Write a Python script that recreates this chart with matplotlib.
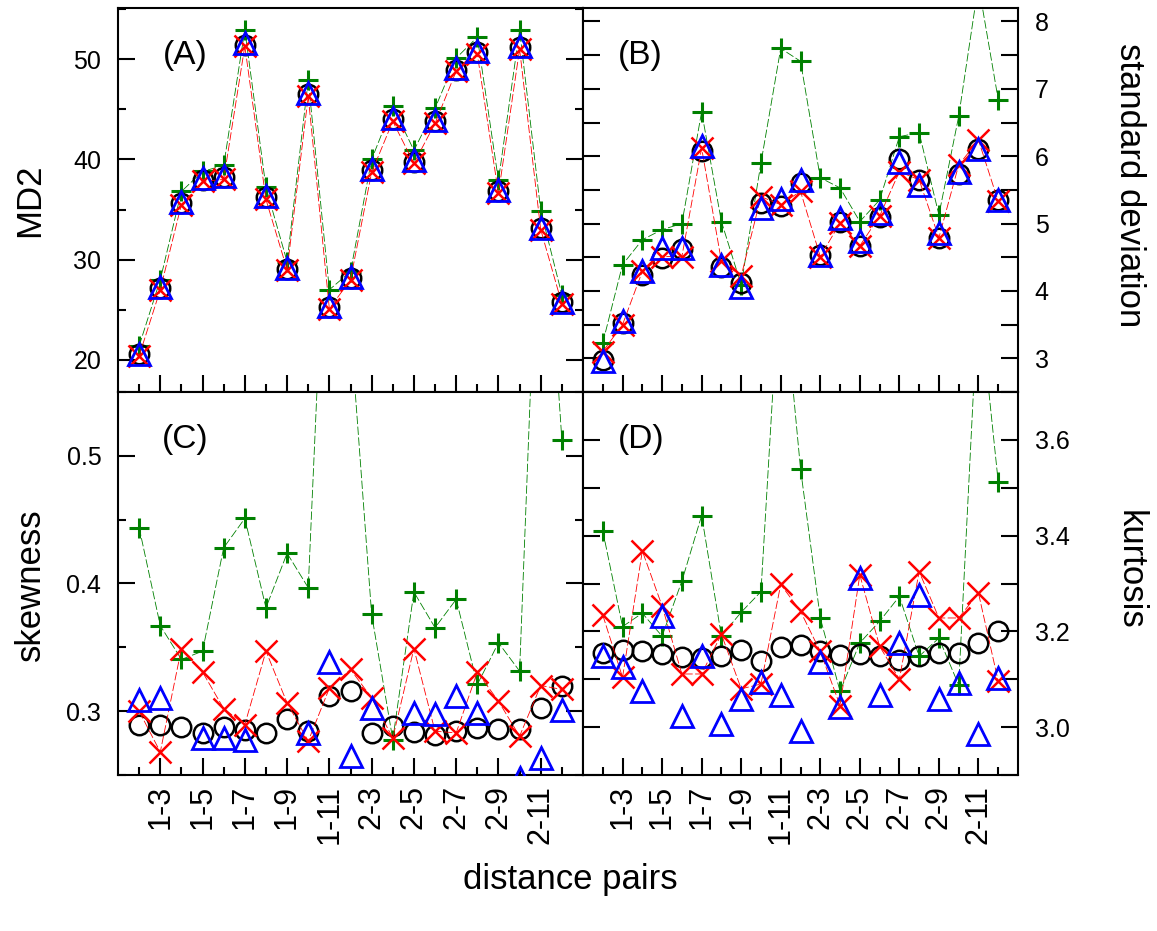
import matplotlib
matplotlib.use('Agg')
import matplotlib.pyplot as plt
import numpy as np
from matplotlib.ticker import MultipleLocator, FixedLocator, FuncFormatter

plt.rcParams['font.family'] = ['Liberation Sans', 'DejaVu Sans']

# pares de distancias 1-2 ... 1-12, 2-3 ... 2-12
pairs = ['1-%d' % k for k in range(2, 13)] + ['2-%d' % k for k in range(3, 13)]
x = np.arange(1, len(pairs) + 1)

# (A) MD2
md2_o = [20.6, 27.2, 35.7, 37.9, 38.2, 51.4, 36.2, 29.1, 46.5, 25.3, 28.2,
         38.9, 44.0, 39.7, 43.8, 48.9, 50.7, 36.8, 51.2, 33.2, 25.8]
md2_x = [20.4, 27.0, 35.5, 37.8, 38.0, 51.3, 36.0, 29.0, 46.3, 25.1, 28.0,
         38.7, 43.8, 39.6, 43.6, 48.8, 50.5, 36.6, 51.0, 33.0, 25.6]
md2_tri = [20.6, 27.3, 35.8, 38.1, 38.3, 51.6, 36.3, 29.2, 46.6, 25.4, 28.3,
           39.0, 44.1, 39.9, 43.9, 49.1, 50.8, 36.9, 51.3, 33.2, 25.8]
md2_plus = [21.4, 28.0, 36.8, 38.8, 39.4, 52.9, 37.2, 29.8, 47.9, 27.0, 28.8,
            40.0, 45.3, 40.9, 45.1, 50.1, 52.2, 37.9, 52.9, 34.9, 26.5]

# (B) desvio padrao
sd_o = [2.98, 3.52, 4.23, 4.49, 4.62, 6.07, 4.36, 4.12, 5.30, 5.26, 5.60,
        4.54, 5.03, 4.67, 5.10, 5.96, 5.65, 4.79, 5.73, 6.10, 5.35]
sd_x = [3.10, 3.50, 4.29, 4.51, 4.51, 6.12, 4.44, 4.22, 5.40, 5.28, 5.48,
        4.51, 5.01, 4.67, 5.11, 5.77, 5.65, 4.79, 5.87, 6.24, 5.33]
sd_tri = [2.96, 3.55, 4.29, 4.64, 4.64, 6.15, 4.39, 4.06, 5.23, 5.36, 5.65,
          4.54, 5.08, 4.74, 5.16, 5.92, 5.58, 4.86, 5.77, 6.10, 5.35]
sd_plus = [3.23, 4.39, 4.76, 4.91, 5.00, 6.66, 5.03, 4.09, 5.90, 7.60, 7.41,
           5.68, 5.53, 5.03, 5.35, 6.29, 6.35, 5.13, 6.59, 8.55, 6.84]

# (C) assimetria
sk_o = [0.2895, 0.2895, 0.2875, 0.283, 0.2875, 0.2856, 0.283, 0.2935, 0.2843, 0.3118, 0.3157,
        0.283, 0.288, 0.2835, 0.2817, 0.2843, 0.287, 0.2861, 0.2861, 0.3026, 0.3196]
sk_x = [0.300, 0.268, 0.349, 0.3306, 0.302, 0.2895, 0.347, 0.3065, 0.2765, 0.318, 0.3327,
        0.3105, 0.279, 0.349, 0.2843, 0.283, 0.3306, 0.3078, 0.2804, 0.3201, 0.317]
sk_tri = [0.309, 0.310, 0.23, 0.279, 0.279, 0.2778, 0.23, 0.23, 0.283, 0.3384, 0.2647,
          0.3026, 0.23, 0.2987, 0.2974, 0.3118, 0.2987, 0.23, 0.248, 0.2634, 0.3013]
sk_plus = [0.4438, 0.367, 0.3405, 0.347, 0.428, 0.451, 0.381, 0.4237, 0.3967, 0.77, 0.60,
           0.3758, 0.2778, 0.3933, 0.3654, 0.3876, 0.3209, 0.3536, 0.3314, 0.76, 0.5125]

# (D) curtose
ku_o = [3.155, 3.162, 3.160, 3.153, 3.146, 3.145, 3.149, 3.162, 3.139, 3.168, 3.172,
        3.160, 3.150, 3.152, 3.148, 3.141, 3.148, 3.155, 3.155, 3.176, 3.200]
ku_x = [3.234, 3.104, 3.368, 3.253, 3.111, 3.111, 3.194, 3.080, 3.090, 3.298, 3.242,
        3.158, 3.045, 3.318, 3.169, 3.100, 3.325, 3.228, 3.228, 3.280, 3.096]
ku_tri = [3.149, 3.125, 3.076, 3.232, 3.024, 3.149, 3.007, 3.059, 3.094, 3.068, 2.992,
          3.135, 3.041, 3.311, 3.068, 3.176, 3.276, 3.058, 3.093, 2.985, 3.103]
ku_plus = [3.410, 3.210, 3.238, 3.190, 3.305, 3.442, 3.190, 3.240, 3.283, 3.98, 3.540,
           3.228, 3.075, 3.176, 3.221, 3.273, 3.148, 3.186, 3.088, 3.91, 3.512]

W, H = 1157, 931
fig = plt.figure(figsize=(W / 100, H / 100), dpi=100)


def caixa(l, r, t, b):
    return [l / W, 1 - b / H, (r - l) / W, (b - t) / H]


axA = fig.add_axes(caixa(118, 583, 8, 392))
axB = fig.add_axes(caixa(583, 1018, 8, 392))
axC = fig.add_axes(caixa(118, 583, 392, 775))
axD = fig.add_axes(caixa(583, 1018, 392, 775))


def desenha(ax, o, xx, tri, plus):
    ax.plot(x, plus, color='green', lw=0.6, ls=(0, (10, 3)), marker='+', ms=15, mew=2.2, zorder=2)
    ax.plot(x, o, ls='none', marker='o', ms=14, mfc='none', mec='black', mew=1.8, zorder=3)
    ax.plot(x, xx, color='red', lw=0.6, ls=(0, (10, 3)), marker='x', ms=16, mew=1.8, zorder=4)
    ax.plot(x, tri, ls='none', marker='^', ms=16, mfc='none', mec='blue', mew=2, zorder=5)


desenha(axA, md2_o, md2_x, md2_tri, md2_plus)
desenha(axB, sd_o, sd_x, sd_tri, sd_plus)
desenha(axC, sk_o, sk_x, sk_tri, sk_plus)
desenha(axD, ku_o, ku_x, ku_tri, ku_plus)

for ax in [axA, axB, axC, axD]:
    ax.set_xlim(0, 22)
    for s in ax.spines.values():
        s.set_linewidth(1.5)
    ax.xaxis.set_major_locator(FixedLocator(x[1::2]))
    ax.xaxis.set_minor_locator(FixedLocator(x[0::2]))
    ax.tick_params(which='both', direction='in', left=True, right=True, top=False,
                   bottom=True, width=1.5, labelsize=18)
    ax.tick_params(which='major', length=12)
    ax.tick_params(which='minor', length=6)
    ax.tick_params(axis='y', which='both', pad=12)
    ax.tick_params(axis='x', which='both', labelbottom=False)

for ax in [axC, axD]:
    ax.set_xticklabels(pairs[1::2], rotation=90, fontsize=22)
    ax.tick_params(axis='x', labelbottom=True, pad=7)

for ax in [axB, axD]:
    ax.tick_params(axis='y', labelleft=False, labelright=True)

axA.set_ylim(16.8, 55.1)
axA.yaxis.set_major_locator(MultipleLocator(10))
axA.yaxis.set_minor_locator(MultipleLocator(5))

axB.set_ylim(2.5, 8.2)
axB.yaxis.set_major_locator(MultipleLocator(0.5))
axB.yaxis.set_major_formatter(FuncFormatter(
    lambda v, p: '%d' % round(v) if abs(v - round(v)) < 1e-6 else ''))

axC.set_ylim(0.25, 0.55)
axC.yaxis.set_major_locator(MultipleLocator(0.1))
axC.yaxis.set_minor_locator(MultipleLocator(0.05))

axD.set_ylim(2.9, 3.7)
axD.yaxis.set_major_locator(MultipleLocator(0.1))
axD.yaxis.set_major_formatter(FuncFormatter(
    lambda v, p: '%.1f' % v if round(v * 10) % 2 == 0 else ''))

for ax, t, px in [(axA, '(A)', 0.144), (axB, '(B)', 0.131),
                  (axC, '(C)', 0.144), (axD, '(D)', 0.133)]:
    ax.text(px, 0.875, t, transform=ax.transAxes, ha='center', va='center', fontsize=24)

fig.text(30 / W, 1 - 200 / H, 'MD2', rotation=90, ha='center', va='center', fontsize=25)
fig.text(30 / W, 1 - 585 / H, 'skewness', rotation=90, ha='center', va='center', fontsize=25)
fig.text(1130 / W, 1 - 185 / H, 'standard deviation', rotation=270, ha='center', va='center', fontsize=25)
fig.text(1130 / W, 1 - 570 / H, 'kurtosis', rotation=270, ha='center', va='center', fontsize=25)
fig.text(570 / W, 1 - 880 / H, 'distance pairs', ha='center', va='center', fontsize=25)

fig.savefig('out.png', dpi=100)
